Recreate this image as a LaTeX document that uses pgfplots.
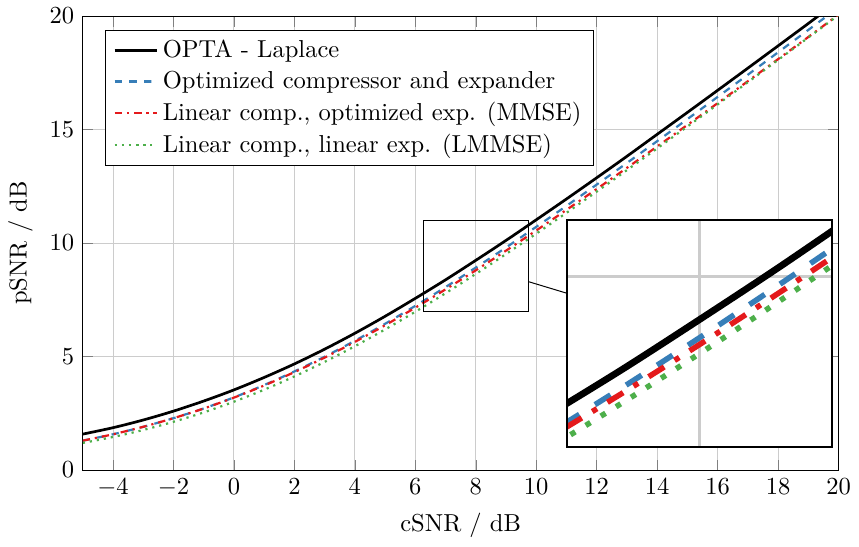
\documentclass[border=0pt]{standalone}
\usepackage{pgfplots}
\pgfplotsset{compat=1.18}
\usepackage{pgfplotstable}
\usetikzlibrary{spy}
\definecolor{cblue}{RGB}{55,126,184}
\definecolor{cred}{RGB}{228,26,28}
\definecolor{cgreen}{RGB}{77,175,74}
\pgfplotstableread{
x y
-5 1.583
-4 1.865
-3 2.204
-2 2.595
-1 3.039
0 3.530
1 4.079
2 4.674
3 5.324
4 6.025
5 6.773
6 7.563
7 8.380
8 9.239
9 10.115
10 11.024
11 11.942
12 12.876
13 13.823
14 14.790
15 15.755
16 16.728
17 17.706
18 18.688
19 19.674
20 20.673
}\opta
\pgfplotstableread{
x y
-5 1.293
-4 1.575
-3 1.904
-2 2.285
-1 2.714
0 3.200
1 3.744
2 4.344
3 4.994
4 5.695
5 6.443
6 7.233
7 8.060
8 8.919
9 9.805
10 10.714
11 11.637
12 12.576
13 13.528
14 14.490
15 15.460
16 16.438
17 17.416
18 18.403
19 19.389
20 20.383
}\optce
\pgfplotstableread{
x y
-5 1.293
-4 1.575
-3 1.904
-2 2.285
-1 2.709
0 3.190
1 3.724
2 4.314
3 4.954
4 5.645
5 6.378
6 7.153
7 7.960
8 8.799
9 9.665
10 10.554
11 11.462
12 12.381
13 13.313
14 14.255
15 15.205
16 16.163
17 17.131
18 18.103
19 19.079
20 20.063
}\mmse
\pgfplotstableread{
x y
-5 1.193
-4 1.455
-3 1.764
-2 2.125
-1 2.539
0 3.010
1 3.539
2 4.124
3 4.764
4 5.455
5 6.193
6 6.973
7 7.790
8 8.639
9 9.515
10 10.414
11 11.332
12 12.266
13 13.213
14 14.170
15 15.135
16 16.108
17 17.086
18 18.068
19 19.054
20 20.043
}\lmmse
\begin{document}
\begin{tikzpicture}[spy using outlines={rectangle, magnification=2.5, connect spies}]
\begin{axis}[
  scale only axis,
  width=308pt, height=185pt,
  xmin=-5, xmax=20, ymin=0, ymax=20,
  xtick={-4,-2,...,20},
  ytick={0,5,...,20},
  grid=major,
  grid style={gray!40, line width=0.4pt},
  xlabel={cSNR / dB},
  ylabel={pSNR / dB},
  legend pos=north west,
  legend cell align=left,
  legend style={draw=black, fill=white, font=\normalsize},
]
\addplot[black, line width=1.1pt, smooth] table {\opta};
\addlegendentry{OPTA - Laplace}
\addplot[cblue, line width=0.9pt, dashed, smooth] table {\optce};
\addlegendentry{Optimized compressor and expander}
\addplot[cred, line width=0.9pt, dashdotted, smooth] table {\mmse};
\addlegendentry{Linear comp., optimized exp. (MMSE)}
\addplot[cgreen, line width=0.9pt, dotted, smooth] table {\lmmse};
\addlegendentry{Linear comp., linear exp. (LMMSE)}
\coordinate (spyon) at (axis cs:8,9);
\coordinate (spyin) at (axis cs:15.4,6.03);
\end{axis}
\spy[width=107.8pt, height=92.5pt, every spy in node/.append style={fill=white, line width=0.8pt}] on (spyon) in node at (spyin);
\end{tikzpicture}
\end{document}
